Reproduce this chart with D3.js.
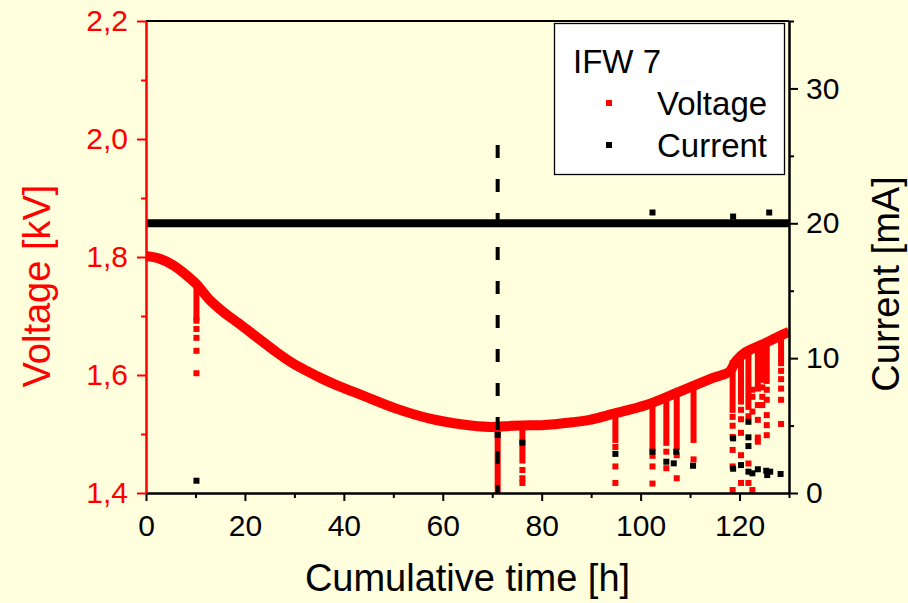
<!DOCTYPE html>
<html>
<head>
<meta charset="utf-8">
<script src="https://cdn.jsdelivr.net/npm/d3@7"></script>
<style>
  html, body { margin: 0; padding: 0; background: #fffedd; }
  svg { display: block; font-family: "Liberation Sans", Arial, sans-serif; }
</style>
</head>
<body>
<div id="chart"></div>
<script>
// axis ticks
const timeTicks = [0, 20, 40, 60, 80, 100, 120];
const timeMinor = [10, 30, 50, 70, 90, 110, 130];
const voltageTicks = [1.4, 1.6, 1.8, 2.0, 2.2];
const voltageMinor = [1.5, 1.7, 1.9, 2.1];
const currentTicks = [0, 10, 20, 30];
const currentMinor = [5, 15, 25, 35];

// main voltage trace (kV)
const voltageTime = [0, 2.8, 5.5, 8.2, 10.2, 12.9, 15.6, 19, 22.4, 25.7, 29.1, 32.5, 35.8, 38.5, 43.9, 50.6, 57.4, 64.1, 69.5, 74.2, 77.6, 80, 86.3, 89.7, 94.4, 101.1, 107.9, 114.6, 118, 119.3, 121.3, 124.7, 128.1, 130];
const voltageValue = [1.802, 1.797, 1.786, 1.769, 1.754, 1.727, 1.707, 1.686, 1.664, 1.643, 1.623, 1.607, 1.593, 1.583, 1.565, 1.543, 1.526, 1.516, 1.512, 1.514, 1.515, 1.515, 1.52, 1.524, 1.534, 1.549, 1.572, 1.595, 1.606, 1.624, 1.639, 1.652, 1.666, 1.673];

// dense voltage drops: time, top and bottom of the run of points
const dipTime = [10.2, 71.1, 76.1, 94.9, 102.4, 105.2, 107.3, 110.7, 118.6, 120.3, 121.8, 123.7, 124.6, 125.5, 128.4];
const dipTop = [1.754, 1.511, 1.514, 1.534, 1.548, 1.566, 1.574, 1.58, 1.625, 1.632, 1.642, 1.654, 1.658, 1.66, 1.671];
const dipBottom = [1.697, 1.405, 1.455, 1.49, 1.475, 1.485, 1.478, 1.49, 1.541, 1.555, 1.546, 1.586, 1.592, 1.59, 1.62];

// isolated voltage points
const vPointTime = [10.2, 10.2, 10.2, 10.2, 10.2, 76.1, 76.1, 76.1, 94.9, 94.9, 94.9, 102.4, 102.4, 102.4, 105.2, 105.2, 107.3, 107.3, 110.7, 118.6, 118.6, 118.6, 118.6, 118.6, 118.6, 120.3, 120.3, 120.3, 120.3, 120.3, 121.8, 121.8, 121.8, 122.6, 122.6, 122.6, 122.6, 123.7, 123.7, 123.7, 123.7, 123.7, 124.6, 124.6, 124.6, 125.5, 125.5, 125.5, 125.5, 125.5, 128.4, 128.4, 128.4, 128.4, 128.4];
const vPointValue = [1.692, 1.678, 1.663, 1.641, 1.603, 1.439, 1.425, 1.417, 1.478, 1.445, 1.417, 1.463, 1.445, 1.416, 1.47, 1.442, 1.464, 1.425, 1.457, 1.529, 1.514, 1.495, 1.473, 1.445, 1.405, 1.541, 1.525, 1.502, 1.464, 1.417, 1.53, 1.45, 1.417, 1.575, 1.563, 1.538, 1.405, 1.577, 1.549, 1.524, 1.494, 1.487, 1.579, 1.563, 1.549, 1.575, 1.558, 1.532, 1.515, 1.498, 1.607, 1.593, 1.577, 1.558, 1.517];

// current (mA)
const currentTime = [0, 30, 60, 90, 130];
const currentValue = [20, 20, 20, 20, 20];
const iPointTime = [10.2, 71.1, 76.1, 94.9, 102.4, 105.2, 106.7, 107.2, 110.6, 118.7, 118.7, 120.3, 121.8, 121.8, 121.8, 121.8, 122.6, 123.7, 125.4, 125.6, 126.2, 128.3, 102.4, 118.7, 126.0];
const iPointValue = [0.91, 4.3, 3.73, 2.9, 3.06, 2.32, 2.2, 3.06, 2.02, 4.05, 1.8, 2.07, 5.28, 4.13, 3.48, 1.58, 1.46, 1.76, 1.65, 1.33, 1.58, 1.41, 20.8, 20.5, 20.8];

// dashed marker
const markerTime = 71.1;
const markerRange = [1.4, 1.99];

const W = 908, H = 603;
const m = { left: 146, right: 119, top: 21, bottom: 110 };
const iw = W - m.left - m.right, ih = H - m.top - m.bottom;

const svg = d3.select("#chart").append("svg")
  .attr("width", W).attr("height", H);

svg.append("rect").attr("width", W).attr("height", H).attr("fill", "#fffedd");

const g = svg.append("g").attr("transform", `translate(${m.left},${m.top})`);

const x = d3.scaleLinear().domain([0, 130]).range([0, iw]);
const yV = d3.scaleLinear().domain([1.4, 2.2]).range([ih, 0]);
const yI = d3.scaleLinear().domain([0, 35]).range([ih, 0]);

const comma = d => d.toFixed(1).replace(".", ",");

// voltage
const vData = voltageTime.map((t, i) => ({ t, v: voltageValue[i] }));
g.append("path")
  .datum(vData)
  .attr("fill", "none")
  .attr("stroke", "#ff0000")
  .attr("stroke-width", 10)
  .attr("d", d3.line().x(d => x(d.t)).y(d => yV(d.v)).curve(d3.curveCatmullRom.alpha(0.5)));

g.selectAll(".dip")
  .data(dipTime.map((t, i) => ({ t, top: dipTop[i], bot: dipBottom[i] })))
  .join("rect")
  .attr("x", d => x(d.t) - 3)
  .attr("y", d => yV(d.top))
  .attr("width", 6)
  .attr("height", d => yV(d.bot) - yV(d.top) + 3)
  .attr("fill", "#ff0000");

g.selectAll(".vpt")
  .data(vPointTime.map((t, i) => ({ t, v: vPointValue[i] })))
  .join("rect")
  .attr("x", d => x(d.t) - 3)
  .attr("y", d => yV(d.v) - 3)
  .attr("width", 6).attr("height", 6)
  .attr("fill", "#ff0000");

// current
const iData = currentTime.map((t, i) => ({ t, v: currentValue[i] }));
g.append("path")
  .datum(iData)
  .attr("fill", "none")
  .attr("stroke", "#000")
  .attr("stroke-width", 8)
  .attr("d", d3.line().x(d => x(d.t)).y(d => yI(d.v)));

g.selectAll(".ipt")
  .data(iPointTime.map((t, i) => ({ t, v: iPointValue[i] })))
  .join("rect")
  .attr("x", d => x(d.t) - 3)
  .attr("y", d => yI(d.v) - 3)
  .attr("width", 6).attr("height", 6)
  .attr("fill", "#000");

// dashed marker line
g.append("line")
  .attr("x1", x(markerTime)).attr("x2", x(markerTime))
  .attr("y1", yV(markerRange[1])).attr("y2", yV(markerRange[0]))
  .attr("stroke", "#000")
  .attr("stroke-width", 4)
  .attr("stroke-dasharray", "13,21");

// frame top
g.append("line")
  .attr("x1", 0).attr("x2", iw).attr("y1", 0).attr("y2", 0)
  .attr("stroke", "#000").attr("stroke-width", 2);

function styleAxis(sel, color, size) {
  sel.selectAll("path").attr("stroke", color).attr("stroke-width", 2);
  sel.selectAll("line").attr("stroke", color).attr("stroke-width", 2);
  sel.selectAll("text").attr("fill", color).style("font-size", size + "px");
}

// bottom
const bx = g.append("g").attr("transform", `translate(0,${ih})`)
  .call(d3.axisBottom(x).tickValues(timeTicks).tickSize(8).tickSizeOuter(0).tickPadding(14));
styleAxis(bx, "#000", 30);
const bxm = g.append("g").attr("transform", `translate(0,${ih})`)
  .call(d3.axisBottom(x).tickValues(timeMinor).tickSize(5).tickSizeOuter(0).tickFormat(""));
styleAxis(bxm, "#000", 30);

// left
const ly = g.append("g")
  .call(d3.axisLeft(yV).tickValues(voltageTicks).tickSize(9).tickSizeOuter(0).tickPadding(9).tickFormat(comma));
styleAxis(ly, "#ff0000", 30);
const lym = g.append("g")
  .call(d3.axisLeft(yV).tickValues(voltageMinor).tickSize(5).tickSizeOuter(0).tickFormat(""));
styleAxis(lym, "#ff0000", 30);

// right
const ry = g.append("g").attr("transform", `translate(${iw},0)`)
  .call(d3.axisRight(yI).tickValues(currentTicks).tickSize(9).tickSizeOuter(0).tickPadding(8));
styleAxis(ry, "#000", 30);
const rym = g.append("g").attr("transform", `translate(${iw},0)`)
  .call(d3.axisRight(yI).tickValues(currentMinor).tickSize(5).tickSizeOuter(0).tickFormat(""));
styleAxis(rym, "#000", 30);

// titles
svg.append("text")
  .attr("x", m.left + iw / 2).attr("y", 591)
  .attr("text-anchor", "middle")
  .style("font-size", "38px")
  .text("Cumulative time [h]");

svg.append("text")
  .attr("transform", "translate(50,286) rotate(-90)")
  .attr("text-anchor", "middle")
  .attr("fill", "#ff0000")
  .style("font-size", "38px")
  .text("Voltage [kV]");

svg.append("text")
  .attr("transform", "translate(899,284) rotate(-90)")
  .attr("text-anchor", "middle")
  .style("font-size", "38px")
  .text("Current [mA]");

// legend
const lg = svg.append("g");
lg.append("rect")
  .attr("x", 554.5).attr("y", 23.5).attr("width", 230).attr("height", 151)
  .attr("fill", "#fff").attr("stroke", "#000").attr("stroke-width", 1.3);
lg.append("text").attr("x", 573).attr("y", 73).style("font-size", "33px").text("IFW 7");
const legendItems = [
  { name: "Voltage", color: "#ff0000", y: 103 },
  { name: "Current", color: "#000", y: 145 }
];
legendItems.forEach(it => {
  lg.append("rect").attr("x", 606).attr("y", it.y - 3).attr("width", 6).attr("height", 6).attr("fill", it.color);
  lg.append("text").attr("x", 657).attr("y", it.y + 12).style("font-size", "33px").text(it.name);
});
</script>
</body>
</html>
